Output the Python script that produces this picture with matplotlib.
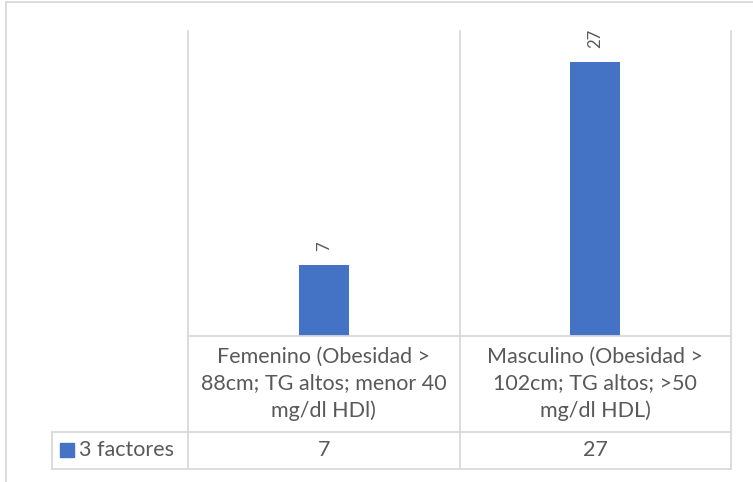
import numpy as np
import matplotlib.pyplot as plt
from matplotlib.lines import Line2D
from matplotlib.patches import Rectangle
import matplotlib.transforms as mtransforms

plt.rcParams['font.family'] = ['Lato', 'DejaVu Sans']

# datos
categorias = ['Femenino (Obesidad >\n88cm; TG altos; menor 40\nmg/dl HDl)',
              'Masculino (Obesidad >\n102cm; TG altos; >50\nmg/dl HDL)']
valores = [7, 27]
serie = '3 factores'

W, H = 753, 482
azul = '#4472C4'
gris_txt = '#595959'
gris_lin = '#D9D9D9'

fig = plt.figure(figsize=(W / 100, H / 100), dpi=100)

# area del grafico (en pixeles)
x0, x1 = 188, 731
y_top, y_base = 31, 336
ax = fig.add_axes([x0 / W, 1 - y_base / H, (x1 - x0) / W, (y_base - y_top) / H])

x = np.arange(len(valores))
ax.bar(x, valores, width=50 / ((x1 - x0) / len(valores)), color=azul)
ax.set_xlim(-0.5, len(valores) - 0.5)
ax.set_ylim(0, 30)
ax.axis('off')

for xi, v in zip(x, valores):
    ax.annotate(str(v), (xi, v), xytext=(0, 10), textcoords='offset points',
                rotation=90, ha='center', va='bottom', fontsize=12, color=gris_txt)


def ypx(p):
    # pixeles desde arriba -> fraccion de figura
    return 1 - p / H


tr = mtransforms.blended_transform_factory(ax.transData, fig.transFigure)
lw = 1.3

# lineas de la tabla de datos
row1, row2, row3 = 336, 432, 469
for xb in np.arange(len(valores) + 1) - 0.5:
    fig.add_artist(Line2D([xb, xb], [ypx(y_top), ypx(row3)], transform=tr,
                          color=gris_lin, lw=lw))
fig.add_artist(Line2D([x0 / W, x1 / W], [ypx(row1), ypx(row1)],
                      transform=fig.transFigure, color=gris_lin, lw=lw))
for yy in [row2, row3]:
    fig.add_artist(Line2D([52 / W, x1 / W], [ypx(yy), ypx(yy)],
                          transform=fig.transFigure, color=gris_lin, lw=lw))
fig.add_artist(Line2D([52 / W, 52 / W], [ypx(row2), ypx(row3)],
                      transform=fig.transFigure, color=gris_lin, lw=lw))

# marco exterior
fig.add_artist(Line2D([6 / W, 6 / W], [ypx(2), 0], transform=fig.transFigure,
                      color=gris_lin, lw=lw))
fig.add_artist(Line2D([6 / W, 1], [ypx(2), ypx(2)], transform=fig.transFigure,
                      color=gris_lin, lw=lw))

# textos de la tabla
for xi, cat, v in zip(x, categorias, valores):
    fig.text(xi, ypx((row1 + row2) / 2), cat, transform=tr, ha='center', va='center',
             fontsize=15.5, color=gris_txt, linespacing=1.42)
    fig.text(xi, ypx((row2 + row3) / 2), str(v), transform=tr, ha='center',
             va='center', fontsize=15.5, color=gris_txt)

# leyenda en la tabla
fig.add_artist(Rectangle((60 / W, ypx(457)), 14 / W, 14 / H, transform=fig.transFigure,
                         color=azul))
fig.text(79 / W, ypx((row2 + row3) / 2), serie, ha='left', va='center',
         fontsize=15.5, color=gris_txt)

fig.savefig('out.png', dpi=100)
